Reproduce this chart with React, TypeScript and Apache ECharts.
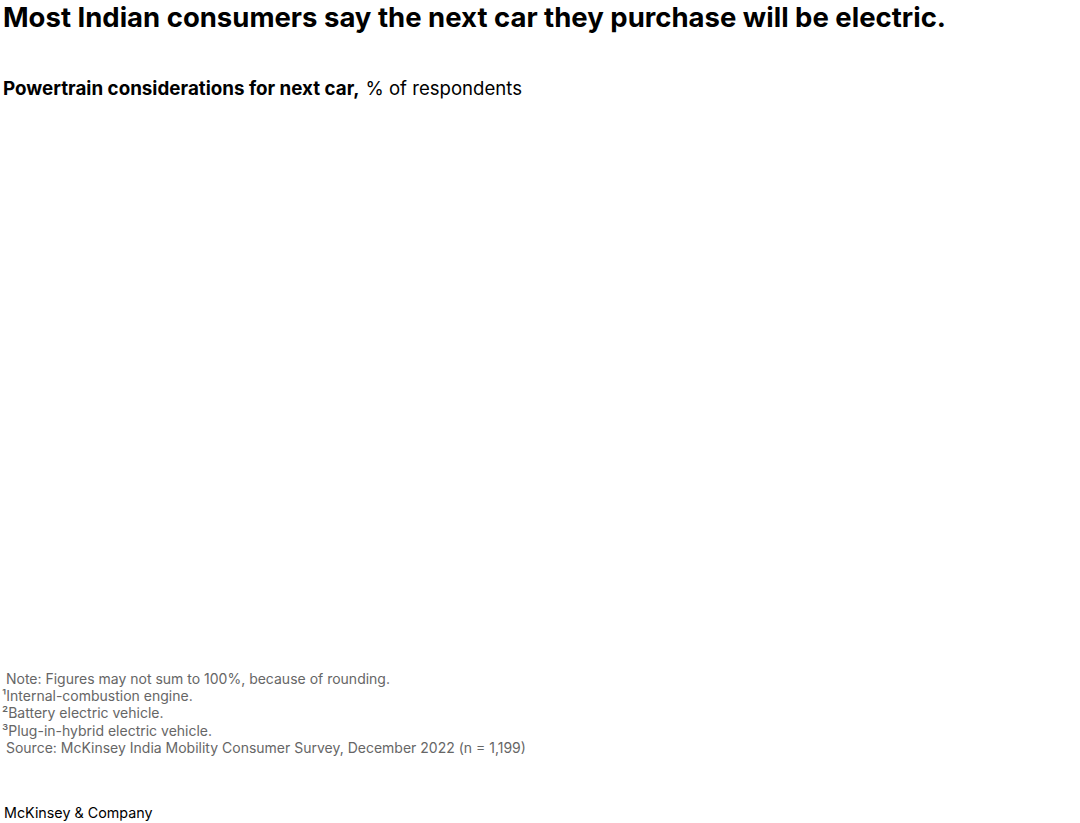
import React, { useEffect, useRef } from 'react'
import * as echarts from 'echarts'

// texts of the chart (the plot area of the reference is empty)
const titleText = 'Most Indian consumers say the next car they purchase will be electric.'
const subtitleBold = 'Powertrain considerations for next car,'
const subtitleRest = '% of respondents'
const footnotes = [
  ' Note: Figures may not sum to 100%, because of rounding.',
  '¹Internal-combustion engine.',
  '²Battery electric vehicle.',
  '³Plug-in-hybrid electric vehicle.',
  ' Source: McKinsey India Mobility Consumer Survey, December 2022 (n = 1,199)',
]
const footnoteY = [678, 695, 712, 730, 747]
const brandText = 'McKinsey & Company'

const FONT = 'Inter, "Noto Sans", sans-serif'

export default function App() {
  const chartRef = useRef<HTMLDivElement>(null)

  useEffect(() => {
    if (!chartRef.current) return
    document.body.style.margin = '0'
    const chart = echarts.init(chartRef.current, null, { renderer: 'svg' })

    const option = {
      animation: false,
      backgroundColor: '#ffffff',
      graphic: [
        {
          type: 'text',
          x: 3,
          y: 17,
          style: {
            text: titleText,
            font: `bold 27.5px ${FONT}`,
            fill: '#000000',
            verticalAlign: 'middle',
          },
        },
        {
          type: 'text',
          x: 3,
          y: 88,
          style: {
            text: `{b|${subtitleBold}}{r|${subtitleRest}}`,
            verticalAlign: 'middle',
            rich: {
              b: { font: `bold 18.8px ${FONT}`, fill: '#000000' },
              r: { font: `18.6px ${FONT}`, fill: '#000000', padding: [0, 0, 0, 6] },
            },
          },
        },
        ...footnotes.map((t, i) => ({
          type: 'text',
          x: 2,
          y: footnoteY[i],
          style: {
            text: t,
            font: `14px ${FONT}`,
            fill: '#666666',
            verticalAlign: 'middle',
          },
        })),
        {
          type: 'text',
          x: 4,
          y: 812,
          style: {
            text: brandText,
            font: `14.3px ${FONT}`,
            fill: '#000000',
            verticalAlign: 'middle',
          },
        },
      ],
    }

    chart.setOption(option)

    return () => {
      chart.dispose()
    }
  }, [])

  return <div ref={chartRef} style={{ width: 1080, height: 823 }} />
}
